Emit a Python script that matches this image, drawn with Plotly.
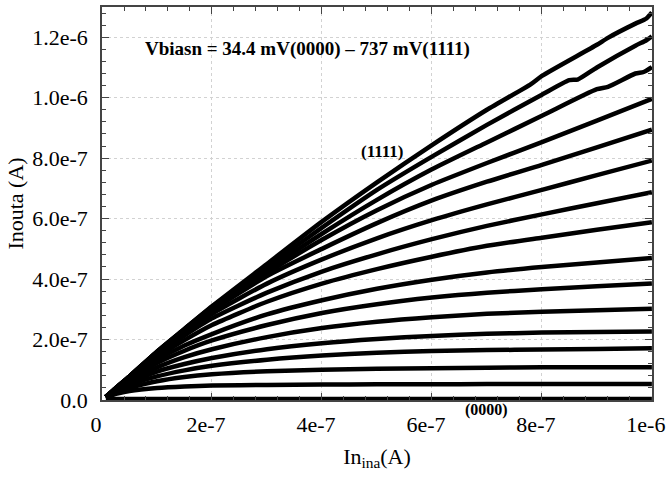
import plotly.graph_objects as go

S = 1e-6  # values below are in units of 1e-6 A

x_grid = [0.007, 0.025, 0.05, 0.1, 0.15, 0.2, 0.3, 0.4, 0.5, 0.6, 0.7, 0.8, 0.9, 1.0]

x_1111 = [0.007, 0.025, 0.05, 0.1, 0.15, 0.2, 0.3, 0.4, 0.5, 0.6, 0.7, 0.78, 0.8, 0.9, 0.92, 0.97, 0.99, 1.0]
y_1111 = [0.01, 0.039, 0.078, 0.16, 0.235, 0.31, 0.45, 0.59, 0.72, 0.843, 0.96, 1.045, 1.072, 1.175, 1.198, 1.245, 1.262, 1.282]

x_1110 = [0.007, 0.025, 0.05, 0.1, 0.15, 0.2, 0.3, 0.4, 0.5, 0.6, 0.7, 0.8, 0.85, 0.865, 0.9, 0.97, 0.99, 1.0]
y_1110 = [0.01, 0.039, 0.078, 0.16, 0.235, 0.308, 0.44, 0.57, 0.695, 0.805, 0.91, 1.01, 1.058, 1.06, 1.10, 1.172, 1.19, 1.203]

x_1101 = [0.007, 0.025, 0.05, 0.1, 0.15, 0.2, 0.3, 0.4, 0.5, 0.6, 0.7, 0.8, 0.9, 0.92, 0.97, 0.985, 1.0]
y_1101 = [0.01, 0.039, 0.078, 0.159, 0.233, 0.305, 0.43, 0.55, 0.662, 0.763, 0.852, 0.94, 1.028, 1.036, 1.08, 1.085, 1.101]

y_1100 = [0.01, 0.039, 0.078, 0.158, 0.23, 0.30, 0.42, 0.53, 0.628, 0.712, 0.784, 0.853, 0.924, 0.996]
y_1011 = [0.01, 0.039, 0.077, 0.157, 0.228, 0.295, 0.41, 0.50, 0.585, 0.66, 0.722, 0.778, 0.836, 0.894]
y_1010 = [0.01, 0.038, 0.076, 0.155, 0.222, 0.285, 0.385, 0.465, 0.535, 0.595, 0.647, 0.695, 0.744, 0.792]
y_1001 = [0.01, 0.038, 0.075, 0.15, 0.213, 0.27, 0.355, 0.425, 0.482, 0.532, 0.576, 0.614, 0.651, 0.687]
y_1000 = [0.01, 0.037, 0.073, 0.142, 0.198, 0.248, 0.325, 0.385, 0.433, 0.474, 0.51, 0.537, 0.563, 0.588]
y_0111 = [0.01, 0.036, 0.07, 0.132, 0.18, 0.218, 0.283, 0.33, 0.368, 0.398, 0.422, 0.44, 0.455, 0.470]
y_0110 = [0.01, 0.035, 0.067, 0.122, 0.163, 0.197, 0.248, 0.288, 0.317, 0.339, 0.355, 0.366, 0.376, 0.385]
y_0101 = [0.01, 0.034, 0.062, 0.108, 0.142, 0.168, 0.208, 0.238, 0.259, 0.274, 0.285, 0.292, 0.297, 0.302]
y_0100 = [0.01, 0.032, 0.056, 0.094, 0.119, 0.139, 0.168, 0.188, 0.202, 0.212, 0.219, 0.223, 0.225, 0.227]
y_0011 = [0.01, 0.03, 0.05, 0.078, 0.098, 0.113, 0.133, 0.147, 0.156, 0.162, 0.165, 0.167, 0.169, 0.171]
y_0010 = [0.008, 0.026, 0.04, 0.062, 0.076, 0.085, 0.095, 0.1, 0.103, 0.105, 0.107, 0.108, 0.108, 0.108]
y_0001 = [0.006, 0.02, 0.03, 0.04, 0.045, 0.048, 0.05, 0.051, 0.052, 0.052, 0.053, 0.053, 0.053, 0.053]
y_0000 = [0.003, 0.003, 0.003, 0.003, 0.003, 0.003, 0.003, 0.003, 0.003, 0.003, 0.003, 0.003, 0.003, 0.003]

curves = [
    ("1111", x_1111, y_1111), ("1110", x_1110, y_1110), ("1101", x_1101, y_1101),
    ("1100", x_grid, y_1100), ("1011", x_grid, y_1011), ("1010", x_grid, y_1010),
    ("1001", x_grid, y_1001), ("1000", x_grid, y_1000), ("0111", x_grid, y_0111),
    ("0110", x_grid, y_0110), ("0101", x_grid, y_0101), ("0100", x_grid, y_0100),
    ("0011", x_grid, y_0011), ("0010", x_grid, y_0010), ("0001", x_grid, y_0001),
    ("0000", x_grid, y_0000),
]

x_ticks = [0, 2e-7, 4e-7, 6e-7, 8e-7, 1e-6]
x_ticktext = ["0", "2e-7", "4e-7", "6e-7", "8e-7", "1e-6"]
y_ticks = [0, 2e-7, 4e-7, 6e-7, 8e-7, 1e-6, 1.2e-6]
y_ticktext = ["0.0", "2.0e-7", "4.0e-7", "6.0e-7", "8.0e-7", "1.0e-6", "1.2e-6"]

x_minor = [i * 4e-8 for i in range(26)]
y_minor = [i * 4e-8 for i in range(33)]

FONT = "Liberation Serif, Times New Roman, serif"

fig = go.Figure()
for name, xs, ys in curves:
    fig.add_trace(go.Scatter(
        x=[v * S for v in xs], y=[v * S for v in ys], mode="lines", name=name,
        line=dict(color="black", width=4.5, shape="spline", smoothing=0.6),
        showlegend=False, cliponaxis=False,
    ))

def axis_common(minor_vals):
    return dict(
        showline=True, linecolor="#444444", linewidth=1.5, mirror="ticks",
        ticks="inside", ticklen=7, tickcolor="#444444", tickwidth=1,
        showgrid=True, gridcolor="#d2d2d2", griddash="dot", gridwidth=1,
        zeroline=False, tickfont=dict(family=FONT, size=22, color="black"),
        ticklabeloverflow="allow",
        minor=dict(ticks="inside", ticklen=4, tickcolor="#444444", tickwidth=1,
                   tickmode="array", tickvals=minor_vals, showgrid=False),
    )

fig.update_layout(
    width=670, height=500,
    margin=dict(l=102, r=18, t=5, b=100),
    paper_bgcolor="white", plot_bgcolor="white",
    font=dict(family=FONT, color="black"),
    xaxis=dict(range=[0, 1.0002e-6], tickmode="array", tickvals=x_ticks, ticktext=x_ticktext,
               ticklabelstandoff=4, ticklabelshift=-6,
               title=dict(text="In<sub>ina</sub>(A)", font=dict(family=FONT, size=22), standoff=12),
               **axis_common(x_minor)),
    yaxis=dict(range=[0, 1.3e-6], tickmode="array", tickvals=y_ticks, ticktext=y_ticktext,
               ticklabelstandoff=8,
               title=dict(text="Inouta (A)", font=dict(family=FONT, size=22), standoff=3),
               **axis_common(y_minor)),
)

fig.add_annotation(x=0.373e-6, y=1.16e-6, xref="x", yref="y",
                   text="<b>Vbiasn = 34.4 mV(0000) – 737 mV(1111)</b>", showarrow=False,
                   font=dict(family=FONT, size=19, color="black"))
fig.add_annotation(x=0.511e-6, y=0.822e-6, xref="x", yref="y", text="<b>(1111)</b>",
                   showarrow=False, font=dict(family=FONT, size=17, color="black"))
fig.add_annotation(x=0.70e-6, y=-0.025, xref="x", yref="paper", text="<b>(0000)</b>",
                   showarrow=False, xanchor="center", yanchor="middle",
                   font=dict(family=FONT, size=16, color="black"))

fig.write_html("out.html")
